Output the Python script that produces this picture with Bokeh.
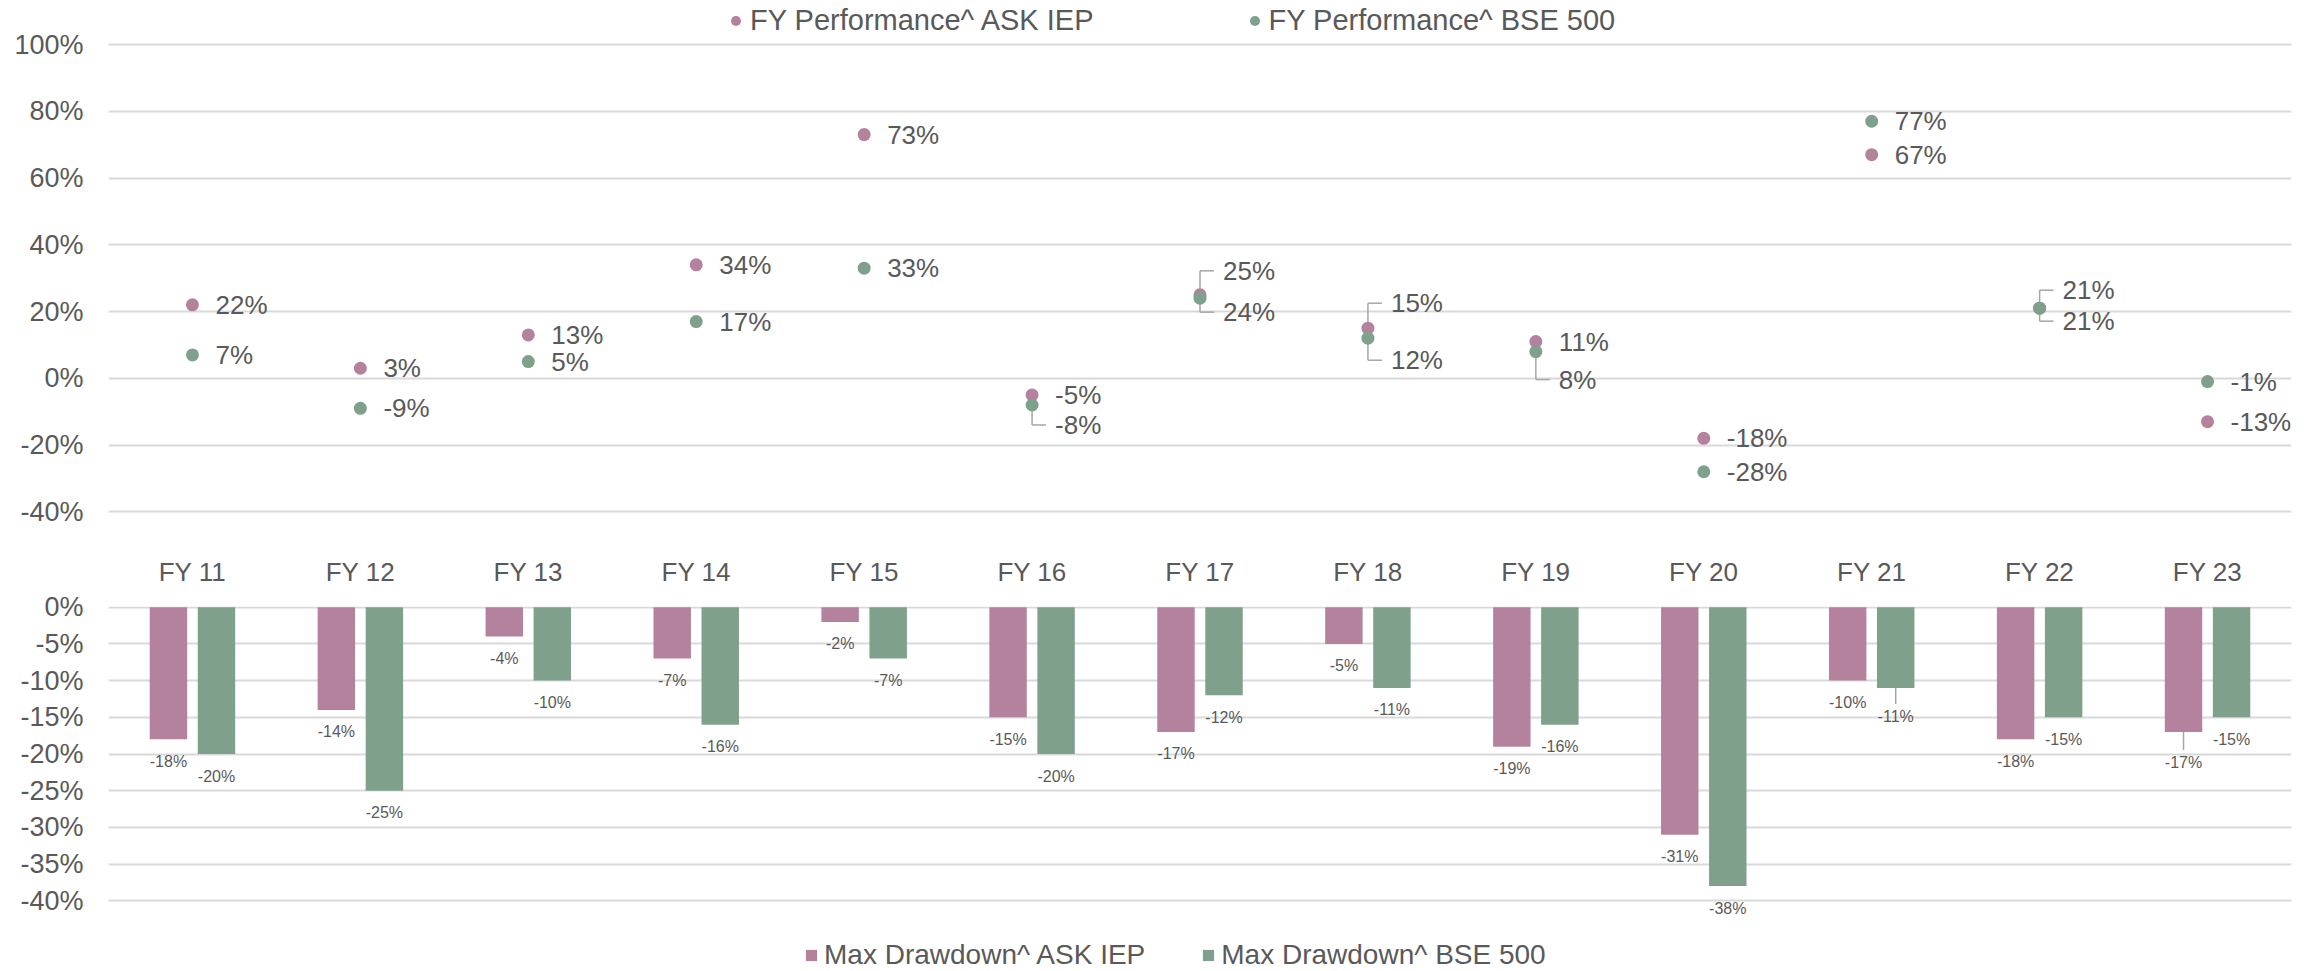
from bokeh.plotting import figure
from bokeh.models import FactorRange, Range1d, FixedTicker, Legend, LegendItem, ColumnDataSource
from bokeh.transform import dodge
from bokeh.layouts import column
from bokeh.embed import file_html
from bokeh.resources import INLINE
from bokeh.core.properties import value

# ---------------- data ----------------
categories = ["FY 11", "FY 12", "FY 13", "FY 14", "FY 15", "FY 16", "FY 17",
              "FY 18", "FY 19", "FY 20", "FY 21", "FY 22", "FY 23"]
perf_ask = [22, 3, 13, 34, 73, -5, 25, 15, 11, -18, 67, 21, -13]
perf_bse = [7, -9, 5, 17, 33, -8, 24, 12, 8, -28, 77, 21, -1]
dd_ask = [-18, -14, -4, -7, -2, -15, -17, -5, -19, -31, -10, -18, -17]
dd_bse = [-20, -25, -10, -16, -7, -20, -12, -11, -16, -38, -11, -15, -15]
top_ticks = [-40, -20, 0, 20, 40, 60, 80, 100]
bottom_ticks = [0, -5, -10, -15, -20, -25, -30, -35, -40]

series_names = ["FY Performance^ ASK IEP", "FY Performance^ BSE 500",
                "Max Drawdown^ ASK IEP", "Max Drawdown^ BSE 500"]

# label placement (screen pixels, positive = down)
perf_ask_dy = [0, 0, 0, 0, 0, 0, -24, -25, 0, 0, 0, -18, 0]
perf_bse_dy = [0, 0, 0, 0, 0, 20, 14, 22, 28, 0, 0, 13, 0]
dd_ask_dy = [22, 22, 22, 22, 22, 22, 22, 22, 22, 22, 22, 22, 31]
dd_bse_dy = [22, 22, 22, 22, 22, 22, 22, 22, 22, 22, 29, 22, 22]

# ---------------- style ----------------
PINK = "#B5829E"
GREEN = "#7FA08A"
TXT = "#595959"
GRID = "#D9D9D9"
LEAD = "#A6A6A6"
FONT = "Liberation Sans"
W = 2310

TOP_H = 540
TOP_PX_PER = 3.3377
BOT_H = 431
BOT_TOP_BORDER = 66
BOT_PX_PER = 7.34


def pct(v):
    return f"{v}%"


def style_axis(ax, size):
    ax.axis_line_color = None
    ax.major_tick_line_color = None
    ax.minor_tick_line_color = None
    ax.major_tick_out = 0
    ax.major_tick_in = 0
    ax.major_label_text_font = FONT
    ax.major_label_text_font_size = size
    ax.major_label_text_color = TXT


# ================= top chart =================
ymax1 = 100 + 44 / TOP_PX_PER
ymin1 = ymax1 - TOP_H / TOP_PX_PER
p1 = figure(width=W, height=TOP_H, output_backend="svg", toolbar_location=None,
            x_range=FactorRange(factors=categories),
            y_range=Range1d(ymin1, ymax1),
            x_axis_location=None,
            min_border_left=108, min_border_right=19,
            min_border_top=0, min_border_bottom=0)
p1.outline_line_color = None
p1.xgrid.grid_line_color = None
p1.ygrid.ticker = FixedTicker(ticks=top_ticks)
p1.ygrid.grid_line_color = GRID
p1.ygrid.grid_line_width = 2
p1.yaxis.ticker = FixedTicker(ticks=top_ticks)
p1.yaxis.major_label_overrides = {t: pct(t) for t in top_ticks}
style_axis(p1.yaxis[0], "27px")
p1.yaxis.major_label_standoff = 25

cw1 = (W - 108 - 19) / len(categories)
hx1 = 14 / cw1


def top_sources(vals, dys):
    lab_y = [v - d / TOP_PX_PER for v, d in zip(vals, dys)]
    src = ColumnDataSource(dict(cat=categories, v=vals, lbl=[pct(v) for v in vals], dy=dys))
    lead = [(c, v, ly) for c, v, ly, d in zip(categories, vals, lab_y, dys) if d != 0]
    lsrc = ColumnDataSource(dict(cat=[l[0] for l in lead], v=[l[1] for l in lead],
                                 ly=[l[2] for l in lead]))
    return src, lsrc


src_a, lead_a = top_sources(perf_ask, perf_ask_dy)
src_b, lead_b = top_sources(perf_bse, perf_bse_dy)

for ls in (lead_a, lead_b):
    p1.segment(x0=dodge("cat", 0, range=p1.x_range), y0="v",
               x1=dodge("cat", 0, range=p1.x_range), y1="ly",
               source=ls, line_color=LEAD, line_width=1.5)
    p1.segment(x0=dodge("cat", 0, range=p1.x_range), y0="ly",
               x1=dodge("cat", hx1, range=p1.x_range), y1="ly",
               source=ls, line_color=LEAD, line_width=1.5)

r_a = p1.scatter(x="cat", y="v", source=src_a, size=13, fill_color=PINK, line_color=None)
r_b = p1.scatter(x="cat", y="v", source=src_b, size=13, fill_color=GREEN, line_color=None)

for s in (src_a, src_b):
    p1.text(x="cat", y="v", text="lbl", source=s, x_offset=23, y_offset="dy",
            text_align="left", text_baseline="middle",
            text_font=value(FONT), text_font_size="26px", text_color=TXT)

leg1 = Legend(items=[LegendItem(label=series_names[0], renderers=[r_a]),
                     LegendItem(label=series_names[1], renderers=[r_b])],
              location=(615, 503), orientation="horizontal",
              glyph_width=25, glyph_height=25, label_standoff=2, spacing=148,
              padding=0, margin=0, label_height=28,
              border_line_color=None, background_fill_alpha=0,
              label_text_font=FONT, label_text_font_size="29px", label_text_color=TXT)
p1.add_layout(leg1)

# ================= bottom chart =================
ymax2 = 0.7 / BOT_PX_PER
ymin2 = ymax2 - (BOT_H - BOT_TOP_BORDER) / BOT_PX_PER
p2 = figure(width=W, height=BOT_H, output_backend="svg", toolbar_location=None,
            x_range=FactorRange(factors=categories),
            y_range=Range1d(ymin2, ymax2),
            x_axis_location="above",
            min_border_left=102, min_border_right=7,
            min_border_top=BOT_TOP_BORDER, min_border_bottom=0)
p2.outline_line_color = None
p2.xgrid.grid_line_color = None
p2.ygrid.ticker = FixedTicker(ticks=bottom_ticks)
p2.ygrid.grid_line_color = GRID
p2.ygrid.grid_line_width = 2
p2.yaxis.ticker = FixedTicker(ticks=bottom_ticks)
p2.yaxis.major_label_overrides = {t: pct(t) for t in bottom_ticks}
style_axis(p2.yaxis[0], "27px")
p2.yaxis.major_label_standoff = 25
style_axis(p2.xaxis[0], "26px")
p2.xaxis.major_label_standoff = 20

OFF = 0.143
BW = 0.223
src2 = ColumnDataSource(dict(cat=categories, ask=dd_ask, bse=dd_bse,
                             ask_lbl=[pct(v) for v in dd_ask], bse_lbl=[pct(v) for v in dd_bse],
                             ask_dy=dd_ask_dy, bse_dy=dd_bse_dy))

rb_a = p2.vbar(x=dodge("cat", -OFF, range=p2.x_range), top="ask", bottom=0, width=BW,
               source=src2, fill_color=PINK, line_color=None)
rb_b = p2.vbar(x=dodge("cat", OFF, range=p2.x_range), top="bse", bottom=0, width=BW,
               source=src2, fill_color=GREEN, line_color=None)

base_dy = min(dd_ask_dy)
for vals, dys, off in ((dd_ask, dd_ask_dy, -OFF), (dd_bse, dd_bse_dy, OFF)):
    lead = [(c, v, v - (d - 13) / BOT_PX_PER) for c, v, d in zip(categories, vals, dys) if d > base_dy]
    ls = ColumnDataSource(dict(cat=[l[0] for l in lead], v=[l[1] for l in lead], ly=[l[2] for l in lead]))
    p2.segment(x0=dodge("cat", off, range=p2.x_range), y0="v",
               x1=dodge("cat", off, range=p2.x_range), y1="ly",
               source=ls, line_color=LEAD, line_width=1.5)

p2.text(x=dodge("cat", -OFF, range=p2.x_range), y="ask", text="ask_lbl", y_offset="ask_dy",
        source=src2, text_align="center", text_baseline="middle",
        text_font=value(FONT), text_font_size="16px", text_color=TXT)
p2.text(x=dodge("cat", OFF, range=p2.x_range), y="bse", text="bse_lbl", y_offset="bse_dy",
        source=src2, text_align="center", text_baseline="middle",
        text_font=value(FONT), text_font_size="16px", text_color=TXT)

leg2 = Legend(items=[LegendItem(label=series_names[2], renderers=[rb_a]),
                     LegendItem(label=series_names[3], renderers=[rb_b])],
              location=(696, 0), orientation="horizontal",
              glyph_width=14, glyph_height=14, label_standoff=6, spacing=56,
              padding=0, margin=0, label_height=28,
              border_line_color=None, background_fill_alpha=0,
              label_text_font=FONT, label_text_font_size="28px", label_text_color=TXT)
p2.add_layout(leg2)

layout = column(p1, p2, spacing=0)
open("out.html", "w").write(file_html(layout, INLINE))
